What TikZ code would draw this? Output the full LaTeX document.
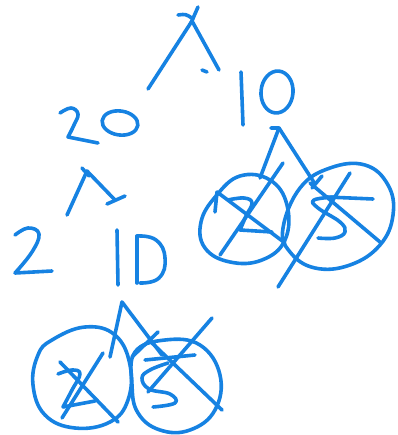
\documentclass[tikz,border=0pt]{standalone}
\definecolor{ink}{RGB}{22,130,226}
\begin{document}
\begin{tikzpicture}[x=1pt,y=-1pt,
  pen/.style={draw=ink,line width=3.6pt,line cap=round,line join=round}]
\useasboundingbox (0,0) rectangle (397,435);
% top caret
\draw[pen] (148,89) -- (192,21) -- (219,70);
\draw[pen] (178,15) .. controls (186,14) .. (193,19);
\draw[pen] (198,7) -- (191,23);
\draw[pen] (202,70) -- (207,72);
% top right 10
\draw[pen] (241,72) -- (243,125);
\draw[pen,rotate around={-5:(277,92)}] (277,92) ellipse [x radius=16, y radius=21];
% 20
\draw[pen] plot[smooth,tension=0.7] coordinates {(60,113) (71,108) (78,114) (74,125) (68,137)} -- (98,143);
\draw[pen,rotate around={-8:(120,123)}] (120,123) ellipse [x radius=18, y radius=12];
% middle caret
\draw[pen] (67,215) -- (87,171) -- (115,200);
\draw[pen] (82,168) -- (89,176);
\draw[pen] (107,204) -- (125,196);
% 2 and 10 lower
\draw[pen] plot[smooth,tension=0.7] coordinates {(15,235) (28,228) (39,234) (32,252) (15,273)} -- (52,271);
\draw[pen] (117,230) -- (118,285);
\draw[pen] (137,236) -- (137,283);
\draw[pen] plot[smooth,tension=0.8] coordinates {(137,236) (156,240) (165,258) (159,278) (140,283)};
% upper right caret
\draw[pen] (271,128) -- (279,128) -- (260,178);
\draw[pen] (279,128) -- (315,184);
\draw[pen] (322,176) -- (312,188);
% upper left circle
\draw[pen] plot[smooth cycle,tension=0.7] coordinates {(216,196) (240,176) (270,180) (287,205) (285,240) (262,260) (230,262) (205,248) (201,222)};
\draw[pen] plot[smooth,tension=0.7] coordinates {(228,200) (244,198) (252,203) (246,216) (240,230)} -- (272,232);
\draw[pen] (283,163) -- (220,255);
\draw[pen] (217,192) -- (285,243);
\draw[pen] (217,192) -- (215,212);
% upper right circle
\draw[pen] plot[smooth cycle,tension=0.7] coordinates {(300,188) (330,168) (365,165) (388,185) (393,215) (380,245) (350,265) (315,268) (290,252) (283,228)};
\draw[pen] (327,197) -- (373,199);
\draw[pen] plot[smooth,tension=0.7] coordinates {(335,197) (314,200) (318,208) (340,222) (345,232) (335,238) (318,238)};
\draw[pen] (350,173) -- (278,287);
\draw[pen] (310,183) -- (380,242);
% bottom caret
\draw[pen] (110,357) -- (122,302) -- (162,355);
\draw[pen] (158,332) -- (132,357);
% bottom left circle
\draw[pen] plot[smooth cycle,tension=0.7] coordinates {(52,340) (85,327) (115,335) (130,365) (128,400) (110,422) (75,428) (45,415) (33,385) (38,355)};
\draw[pen] plot[smooth,tension=0.7] coordinates {(58,374) (72,370) (80,374) (72,390) (63,407)} -- (95,401);
\draw[pen] (103,353) -- (62,418);
\draw[pen] (60,362) -- (118,422);
% bottom right circle
\draw[pen] plot[smooth cycle,tension=0.7] coordinates {(135,352) (165,340) (200,345) (220,375) (215,410) (190,430) (160,430) (138,413) (132,385)};
\draw[pen] (145,360) -- (195,355);
\draw[pen] plot[smooth,tension=0.7] coordinates {(168,363) (150,370) (142,378) (149,389) (170,394) (175,403) (153,407)};
\draw[pen] (212,318) -- (148,392);
\draw[pen] (152,343) -- (222,410);
\end{tikzpicture}
\end{document}
